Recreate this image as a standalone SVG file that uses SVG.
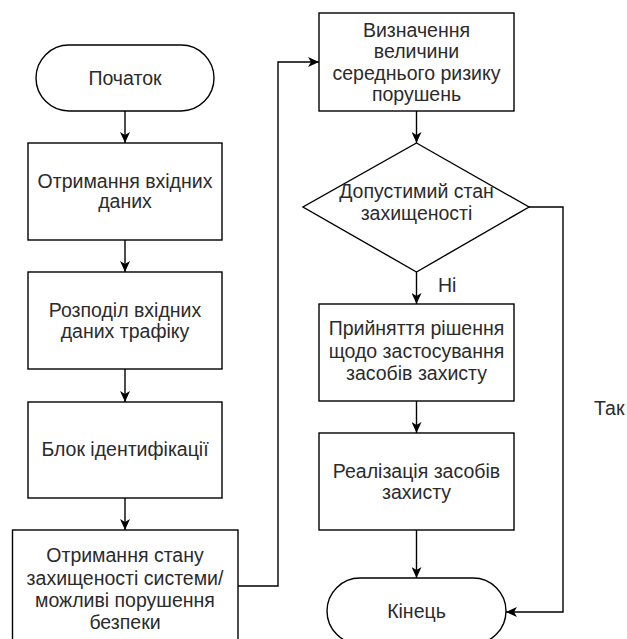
<svg xmlns="http://www.w3.org/2000/svg" width="627" height="639" viewBox="0 0 627 639">
  <defs>
    <marker id="arrow" markerUnits="userSpaceOnUse" markerWidth="12" markerHeight="10" refX="11" refY="5" orient="auto">
      <path d="M0,0 L11,5 L0,10 L3,5 Z" fill="#000"/>
    </marker>
    <style>
      .shape { fill: #fff; stroke: #000; stroke-width: 1.4; }
      .edge { fill: none; stroke: #000; stroke-width: 1.4; marker-end: url(#arrow); }
      .label { font-family: "Liberation Sans", Arial, Helvetica, sans-serif; font-size: 19.5px; fill: #2b2b2b; text-anchor: middle; }
      .side { text-anchor: start; }
    </style>
  </defs>
  <rect width="627" height="639" fill="#fff"/>

  <!-- connectors -->
  <g id="connectors">
    <path class="edge" d="M125,111 L125,143"/>
    <path class="edge" d="M125,240 L125,272"/>
    <path class="edge" d="M125,369 L125,402"/>
    <path class="edge" d="M125,498 L125,530"/>
    <path class="edge" d="M238,586 L278,586 L278,62 L319,62"/>
    <path class="edge" d="M416.5,111 L416.5,143"/>
    <path class="edge" d="M416.5,272 L416.5,304"/>
    <path class="edge" d="M416.5,401 L416.5,433"/>
    <path class="edge" d="M416.5,530 L416.5,578"/>
    <path class="edge" d="M529,207 L563,207 L563,612 L506,612"/>
    <text class="label side" x="438" y="292">Ні</text>
    <text class="label side" x="594" y="415">Так</text>
  </g>

  <!-- start terminator -->
  <g id="start">
    <rect class="shape" x="36" y="45" width="178" height="66" rx="33" ry="33"/>
    <text class="label" x="125" y="85">Початок</text>
  </g>

  <!-- input data -->
  <g id="input">
    <rect class="shape" x="28" y="143" width="194" height="97"/>
    <text class="label" x="125" y="188">Отримання вхідних</text>
    <text class="label" x="125" y="208">даних</text>
  </g>

  <!-- traffic split -->
  <g id="split">
    <rect class="shape" x="28" y="272" width="194" height="97"/>
    <text class="label" x="125" y="317">Розподіл вхідних</text>
    <text class="label" x="125" y="338">даних трафіку</text>
  </g>

  <!-- identification block -->
  <g id="ident">
    <rect class="shape" x="28" y="402" width="194" height="96"/>
    <text class="label" x="125" y="456">Блок ідентифікації</text>
  </g>

  <!-- security state -->
  <g id="state">
    <rect class="shape" x="12.5" y="530" width="225.5" height="114"/>
    <text class="label" x="125" y="562">Отримання стану</text>
    <text class="label" x="125" y="585">захищеності системи/</text>
    <text class="label" x="125" y="607">можливі порушення</text>
    <text class="label" x="125" y="629">безпеки</text>
  </g>

  <!-- average risk -->
  <g id="risk">
    <rect class="shape" x="319" y="13" width="195" height="98"/>
    <text class="label" x="416.5" y="37">Визначення</text>
    <text class="label" x="416.5" y="58">величини</text>
    <text class="label" x="416.5" y="80">середнього ризику</text>
    <text class="label" x="416.5" y="101">порушень</text>
  </g>

  <!-- decision -->
  <g id="decision">
    <path class="shape" d="M416.5,143 L529,207 L416.5,272 L303,207 Z"/>
    <text class="label" x="416.5" y="198">Допустимий стан</text>
    <text class="label" x="416.5" y="220">захищеності</text>
  </g>

  <!-- decision on protection -->
  <g id="decide">
    <rect class="shape" x="319" y="304" width="195" height="97"/>
    <text class="label" x="416.5" y="335">Прийняття рішення</text>
    <text class="label" x="416.5" y="358">щодо застосування</text>
    <text class="label" x="416.5" y="380">засобів захисту</text>
  </g>

  <!-- implementation -->
  <g id="implement">
    <rect class="shape" x="319" y="433" width="195" height="97"/>
    <text class="label" x="416.5" y="478">Реалізація засобів</text>
    <text class="label" x="416.5" y="499">захисту</text>
  </g>

  <!-- end terminator -->
  <g id="end">
    <rect class="shape" x="327" y="578" width="179" height="66" rx="33" ry="33"/>
    <text class="label" x="416.5" y="618">Кінець</text>
  </g>
</svg>
